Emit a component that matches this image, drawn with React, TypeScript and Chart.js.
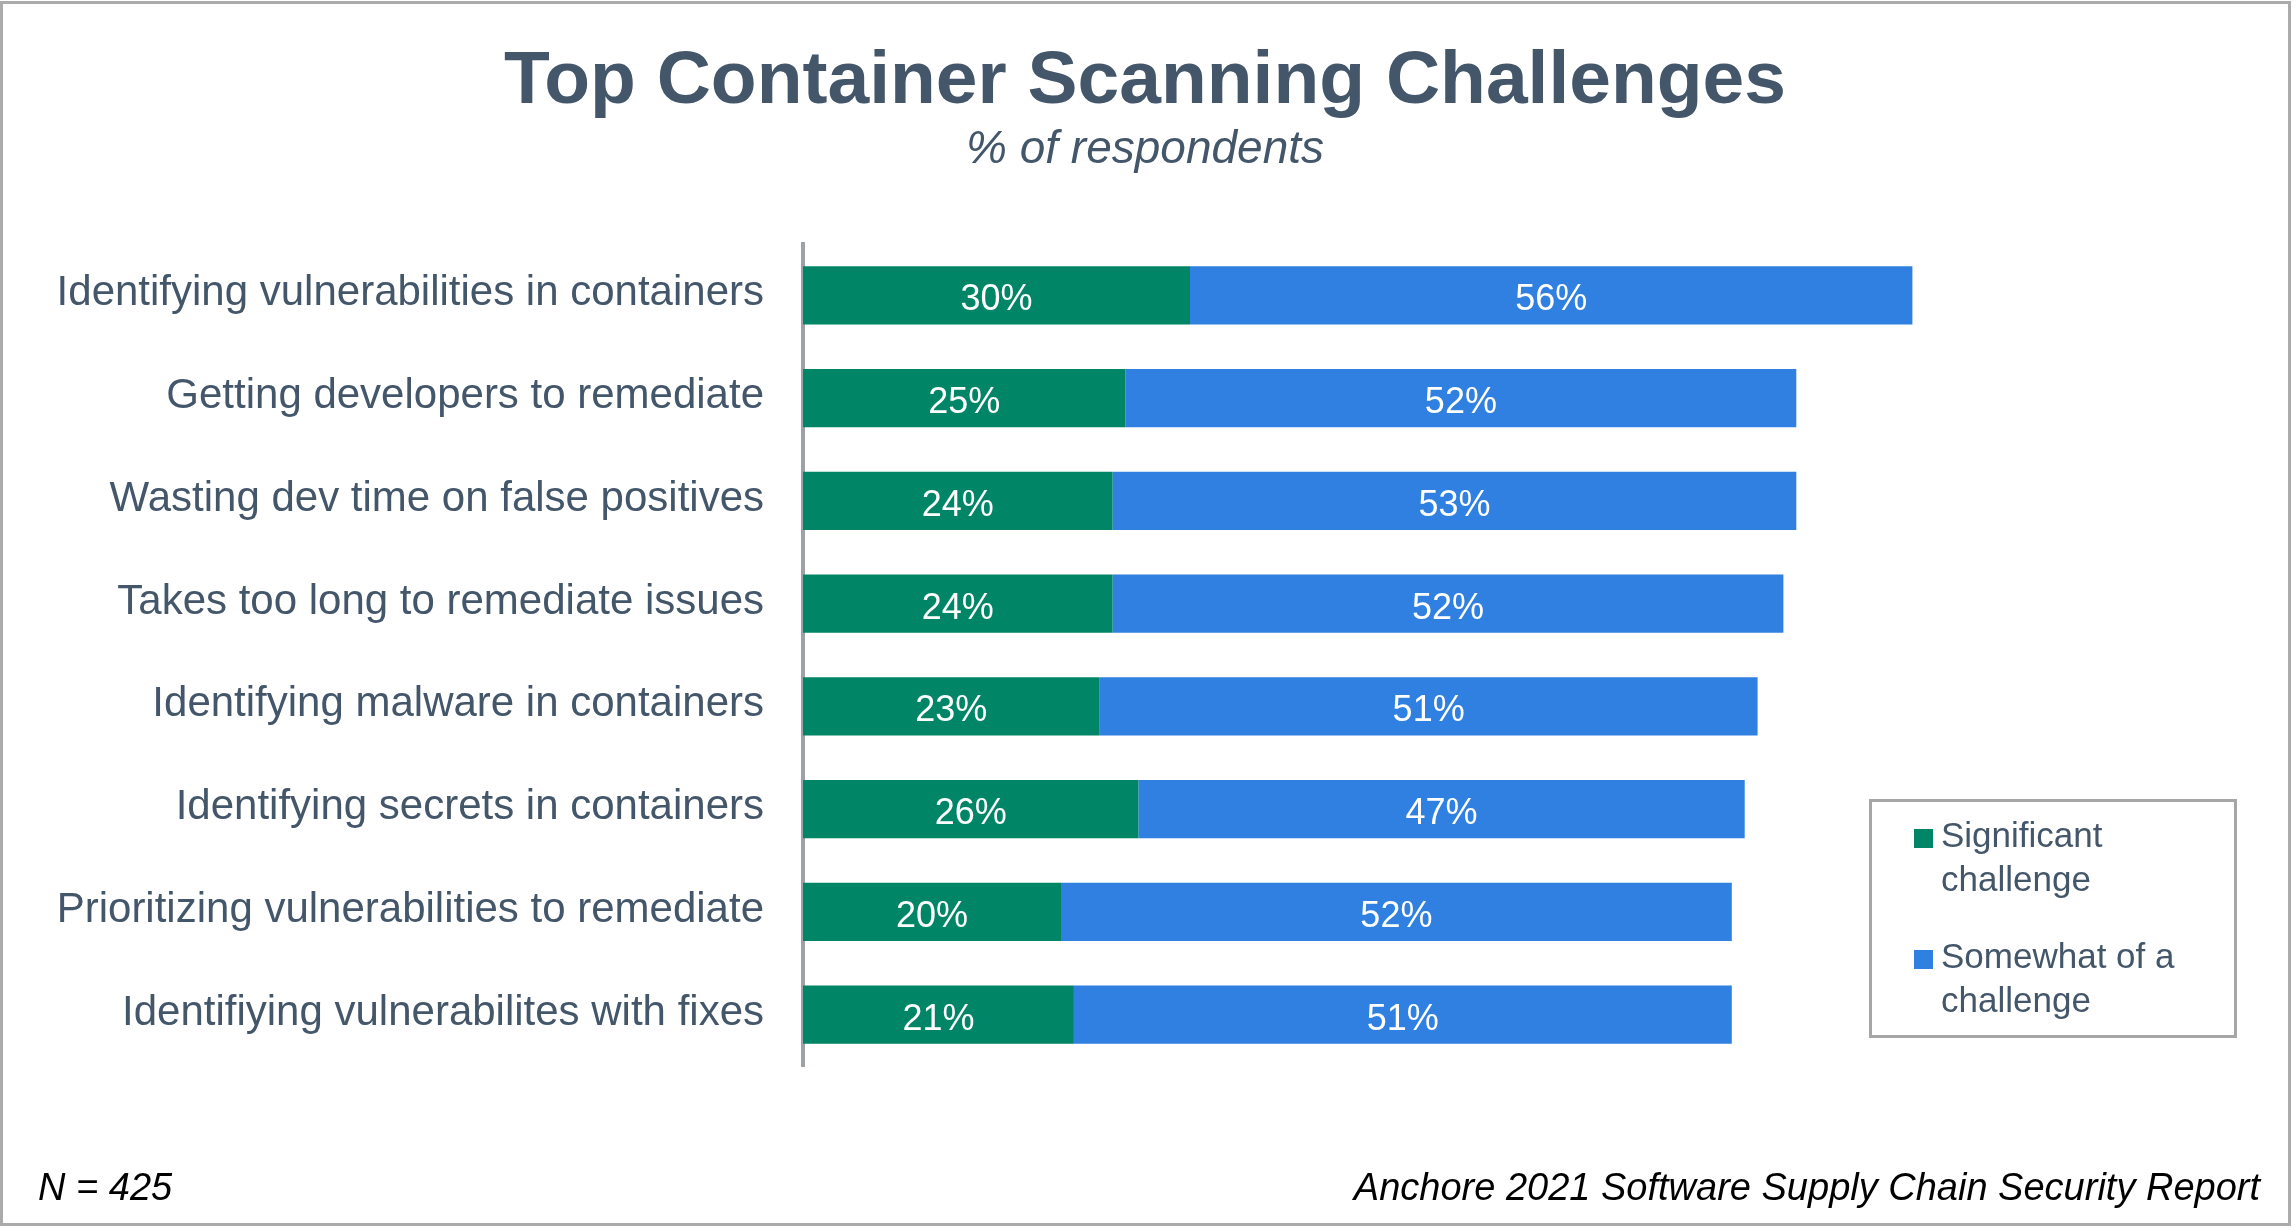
import React, { useEffect, useRef } from "react";
import { Chart, registerables } from "chart.js";

Chart.register(...registerables);

const categories = [
  "Identifying vulnerabilities in containers",
  "Getting developers to remediate",
  "Wasting dev time on false positives",
  "Takes too long to remediate issues",
  "Identifying malware in containers",
  "Identifying secrets in containers",
  "Prioritizing vulnerabilities to remediate",
  "Identifiying vulnerabilites with fixes",
];
const significant = [30, 25, 24, 24, 23, 26, 20, 21];
const somewhat = [56, 52, 53, 52, 51, 47, 52, 51];
const seriesNames = ["Significant challenge", "Somewhat of a challenge"];
const seriesColors = ["#008566", "#2F80E1"];
const titleText = "Top Container Scanning Challenges";
const subtitleText = "% of respondents";
const footerLeft = "N = 425";
const footerRight = "Anchore 2021 Software Supply Chain Security Report";

const FONT = '"Liberation Sans", Arial, Helvetica, sans-serif';
const SLATE = "#44566A";

function wrap(ctx: CanvasRenderingContext2D, text: string, maxW: number): string[] {
  const words = text.split(" ");
  const lines: string[] = [];
  let cur = "";
  for (const w of words) {
    const t = cur ? cur + " " + w : w;
    if (ctx.measureText(t).width > maxW && cur) {
      lines.push(cur);
      cur = w;
    } else cur = t;
  }
  if (cur) lines.push(cur);
  return lines;
}

const framePlugin = {
  id: "frame",
  beforeDraw(chart: any) {
    const ctx = chart.ctx as CanvasRenderingContext2D;
    ctx.save();
    ctx.fillStyle = "#ffffff";
    ctx.fillRect(0, 0, chart.width, chart.height);
    ctx.strokeStyle = "#ababab";
    ctx.lineWidth = 3;
    ctx.strokeRect(1.5, 2.5, 2288, 1222);
    ctx.restore();
  },
  afterDatasetsDraw(chart: any) {
    const ctx = chart.ctx as CanvasRenderingContext2D;
    ctx.save();
    ctx.fillStyle = "#ffffff";
    ctx.font = `36px ${FONT}`;
    ctx.textAlign = "center";
    ctx.textBaseline = "alphabetic";
    chart.data.datasets.forEach((ds: any, i: number) => {
      const meta = chart.getDatasetMeta(i);
      meta.data.forEach((el: any, j: number) => {
        const p = el.getProps(["x", "y", "base"], true);
        const cx = (p.x + p.base) / 2;
        ctx.fillText(ds.data[j] + "%", cx, p.y + 15);
      });
    });
    ctx.restore();
  },
  afterDraw(chart: any) {
    const ctx = chart.ctx as CanvasRenderingContext2D;
    ctx.save();
    // title + subtitle
    ctx.fillStyle = SLATE;
    ctx.textAlign = "center";
    ctx.textBaseline = "alphabetic";
    ctx.font = `bold 75px ${FONT}`;
    ctx.fillText(titleText, 1145, 103);
    ctx.font = `italic 46px ${FONT}`;
    ctx.fillText(subtitleText, 1145, 163);

    // legend box
    ctx.strokeStyle = "#a6a6a6";
    ctx.lineWidth = 3;
    ctx.fillStyle = "#ffffff";
    ctx.fillRect(1870, 800, 365, 236);
    ctx.strokeRect(1870.5, 800.5, 365, 236);
    ctx.font = `35px ${FONT}`;
    ctx.textAlign = "left";
    ctx.textBaseline = "alphabetic";
    let base = 847;
    chart.data.datasets.forEach((ds: any) => {
      ctx.fillStyle = ds.backgroundColor;
      ctx.fillRect(1914, base - 18, 19, 19);
      ctx.fillStyle = SLATE;
      const lines = wrap(ctx, ds.label, 262);
      lines.forEach((ln, k) => ctx.fillText(ln, 1941, base + k * 43.5));
      base += 121;
    });

    // footer
    ctx.fillStyle = "#000000";
    ctx.font = `italic 38px ${FONT}`;
    ctx.textAlign = "left";
    ctx.fillText(footerLeft, 38, 1200);
    ctx.textAlign = "right";
    ctx.fillText(footerRight, 2260, 1200);
    ctx.restore();
  },
};

export default function App() {
  const ref = useRef<HTMLCanvasElement | null>(null);
  useEffect(() => {
    document.body.style.margin = "0";
    if (!ref.current) return;
    const chart = new Chart(ref.current, {
      type: "bar",
      data: {
        labels: categories,
        datasets: [
          {
            label: seriesNames[0],
            data: significant,
            backgroundColor: seriesColors[0],
            borderWidth: 0,
          },
          {
            label: seriesNames[1],
            data: somewhat,
            backgroundColor: seriesColors[1],
            borderWidth: 0,
          },
        ],
      },
      options: {
        indexAxis: "y",
        responsive: false,
        animation: false,
        maintainAspectRatio: false,
        layout: { padding: { top: 244, bottom: 164, left: 0, right: 203 } },
        datasets: {
          bar: { categoryPercentage: 1, barPercentage: 0.565 },
        },
        scales: {
          x: {
            stacked: true,
            min: 0,
            max: 100,
            display: false,
          },
          y: {
            stacked: true,
            afterFit: (scale: any) => {
              scale.width = 803;
            },
            grid: { display: false, drawTicks: false },
            border: { display: true, color: "#9ea2a8", width: 4 },
            ticks: {
              padding: 39,
              labelOffset: -1.5,
              color: SLATE,
              font: { family: FONT, size: 42 },
            },
          },
        },
        plugins: {
          legend: { display: false },
          title: { display: false },
          tooltip: { enabled: false },
        },
      },
      plugins: [framePlugin],
    });
    return () => chart.destroy();
  }, []);
  return (
    <div style={{ width: 2296, height: 1230 }}>
      <canvas ref={ref} width={2296} height={1230} style={{ display: "block" }} />
    </div>
  );
}
